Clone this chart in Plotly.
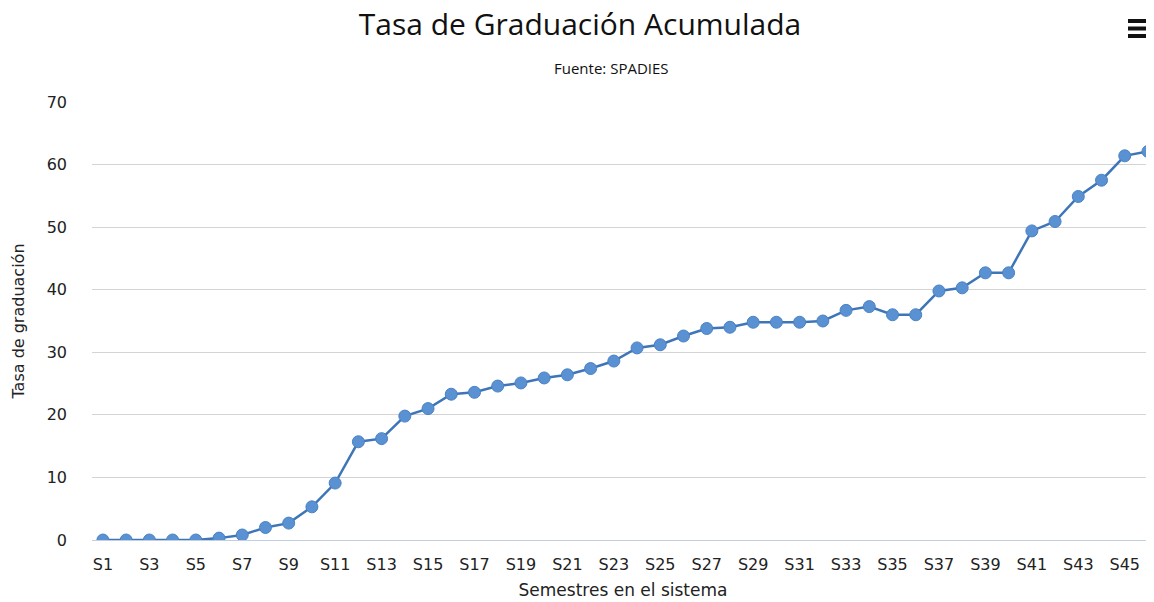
import plotly.graph_objects as go

semestres = ["S" + str(i) for i in range(1, 47)]
tasa = [
    0, 0, 0, 0, 0, 0.3, 0.8, 2.0, 2.7, 5.3,
    9.1, 15.7, 16.2, 19.8, 21.0, 23.3, 23.6, 24.6, 25.1, 25.9,
    26.4, 27.4, 28.6, 30.7, 31.2, 32.6, 33.8, 34.0, 34.8, 34.8,
    34.8, 35.0, 36.7, 37.3, 36.0, 36.0, 39.8, 40.3, 42.7, 42.7,
    49.4, 50.9, 54.9, 57.5, 61.4, 62.1,
]
y_ticks = [0, 10, 20, 30, 40, 50, 60, 70]

titulo = "Tasa de Graduación Acumulada"
subtitulo = "Fuente: SPADIES"
eje_x = "Semestres en el sistema"
eje_y = "Tasa de graduación"

# the page body adds an 8px margin, so the figure is drawn 8px smaller
ALTO_PLOT = 438
ANCHO_PLOT = 1062

fig = go.Figure()
fig.add_trace(go.Scatter(
    x=semestres,
    y=tasa,
    mode="lines+markers",
    line=dict(color="#3d75b8", width=2.5),
    marker=dict(color="#5a91d2", size=12, line=dict(color="#4a82c4", width=1)),
    showlegend=False,
))

# menu icon (three bars, top right)
for y_px in [21, 28.5, 36]:
    y_p = 1 + (102 - y_px) / ALTO_PLOT
    fig.add_shape(
        type="line", xref="paper", yref="paper",
        x0=(1128 - 92) / ANCHO_PLOT, x1=1.0, y0=y_p, y1=y_p,
        line=dict(color="#111111", width=4),
    )

fig.update_layout(
    width=1146,
    height=594,
    margin=dict(l=84, r=0, t=94, b=62),
    paper_bgcolor="white",
    plot_bgcolor="white",
    font=dict(family="DejaVu Sans", color="#222222"),
    title=dict(
        text=titulo,
        x=(580 - 8) / 1146, xanchor="center",
        y=1 - (24 - 8) / 594, yanchor="middle",
        font=dict(family="Open Sans", size=30, color="#111111"),
    ),
    annotations=[
        dict(
            text=subtitulo, xref="paper", yref="paper",
            x=(611 - 92) / ANCHO_PLOT, y=1.0 + (102 - 68) / ALTO_PLOT,
            xanchor="center", yanchor="middle", showarrow=False,
            font=dict(family="Open Sans", size=15, color="#111111"),
        ),
    ],
    xaxis=dict(
        type="category",
        range=[-0.47, 45.26],
        tickmode="array",
        tickvals=semestres[::2],
        ticks="",
        showgrid=False,
        showline=True,
        linecolor="#c0d0e0",
        linewidth=1,
        ticklabelstandoff=10,
        tickfont=dict(size=16, color="#222222"),
        title=dict(text=eje_x, font=dict(size=17, color="#222222"), standoff=10),
    ),
    yaxis=dict(
        range=[0, 70],
        tickvals=y_ticks,
        showgrid=True,
        gridcolor="#d4d4d4",
        zeroline=False,
        showline=False,
        ticks="",
        ticklabelstandoff=24,
        tickfont=dict(size=16, color="#222222"),
        title=dict(text=eje_y, font=dict(size=16, color="#222222"), standoff=18),
    ),
)

fig.write_html("out.html")
